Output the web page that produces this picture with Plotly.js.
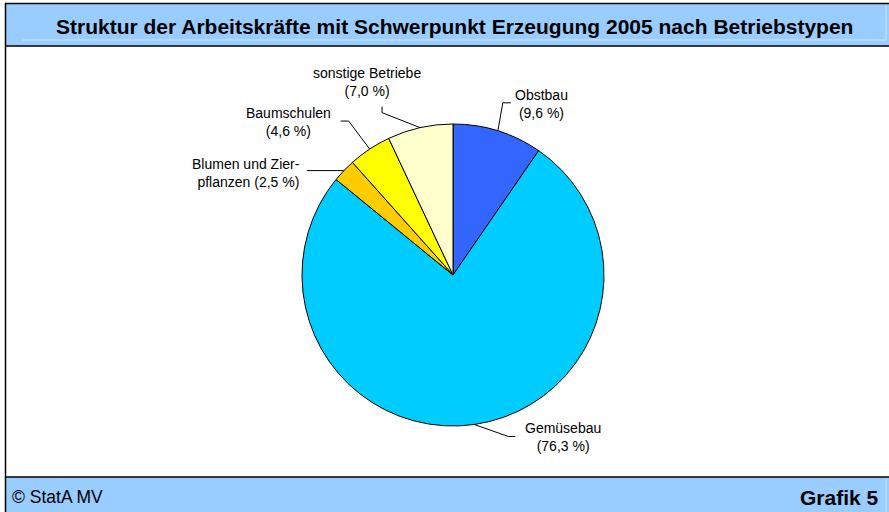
<!DOCTYPE html>
<html><head><meta charset="utf-8">
<script src="https://cdn.plot.ly/plotly-3.0.1.min.js"></script>
<style>html,body{margin:0;padding:0;background:#fff}#chart{width:889px;height:512px}</style>
</head><body><div id="chart"></div>
<script>
// ---- data ----
const categories = ["Obstbau", "Gemüsebau", "Blumen und Zier-<br>pflanzen", "Baumschulen", "sonstige Betriebe"];
const values = [9.6, 76.3, 2.5, 4.6, 7.0];
const valueLabels = ["9,6", "76,3", "2,5", "4,6", "7,0"];
const colors = ["#3366FF", "#00CCFF", "#FFCC00", "#FFFF00", "#FFFFCC"];
const titleText = "Struktur der Arbeitskräfte mit Schwerpunkt Erzeugung 2005 nach Betriebstypen";
const sourceText = "© StatA MV";
const chartNo = "Grafik 5";

// ---- layout styles ----
const W = 889, H = 512;
const cx = 453, cy = 275, R = 151;
const px = x => x / W, py = y => 1 - y / H;
const FONT = "Arial, Liberation Sans, sans-serif";
// leader elbows (relative pixel offsets from slice edge point) and label offsets
const elbows = [
  [[5, -28], [13, -28]],
  [[34, 12], [41, 12]],
  [[-37, 0]],
  [[-21, -28], [-29, -28]],
  [[-38, -15], [-38, -21]]
];
const labelOff = [[44, -27, "center"], [89, 13, "center"], [-42, 2, "right"], [-81, -27, "center"], [-53, -46, "center"]];

const total = values.reduce((a, b) => a + b, 0);
const shapes = [
  {type: "rect", xref: "paper", yref: "paper", x0: px(5), x1: 1, y0: py(46), y1: py(3), fillcolor: "#99CCFF", line: {width: 0}, layer: "below"},
  {type: "rect", xref: "paper", yref: "paper", x0: px(5), x1: 1, y0: 0, y1: py(477), fillcolor: "#99CCFF", line: {width: 0}, layer: "below"},
  {type: "line", xref: "paper", yref: "paper", x0: px(22), x1: px(886), y0: py(40), y1: py(40), line: {color: "#CCE6FF", width: 1}, layer: "below"},
  {type: "line", xref: "paper", yref: "paper", x0: px(886), x1: px(886), y0: py(5), y1: py(40), line: {color: "#CCE6FF", width: 1}, layer: "below"},
  {type: "line", xref: "paper", yref: "paper", x0: px(886), x1: px(886), y0: py(479), y1: 0, line: {color: "#CCE6FF", width: 1}, layer: "below"},
  {type: "line", xref: "paper", yref: "paper", x0: px(5), x1: 1, y0: py(46), y1: py(46), line: {color: "#000", width: 1.5}},
  {type: "line", xref: "paper", yref: "paper", x0: px(5), x1: 1, y0: py(477), y1: py(477), line: {color: "#000", width: 1.5}},
  {type: "line", xref: "paper", yref: "paper", x0: px(5), x1: 1, y0: py(3.5), y1: py(3.5), line: {color: "#000", width: 1.5}},
  {type: "line", xref: "paper", yref: "paper", x0: px(5.5), x1: px(5.5), y0: 0, y1: py(3), line: {color: "#000", width: 1.5}}
];
const annotations = [
  {text: "<b>" + titleText + "</b>", xref: "paper", yref: "paper", x: px(454), y: py(26), xanchor: "center", yanchor: "middle", showarrow: false, font: {family: FONT, size: 21, color: "#000"}},
  {text: sourceText, xref: "paper", yref: "paper", x: px(10), y: py(497), xanchor: "left", yanchor: "middle", showarrow: false, font: {family: FONT, size: 17.5, color: "#000"}},
  {text: "<b>" + chartNo + "</b>", xref: "paper", yref: "paper", x: px(881), y: py(497), xanchor: "right", yanchor: "middle", showarrow: false, font: {family: FONT, size: 21, color: "#000"}}
];
let cum = 0;
values.forEach((v, i) => {
  const mid = (cum + v / 2) / total * 2 * Math.PI;
  cum += v;
  const P = [cx + R * Math.sin(mid), cy - R * Math.cos(mid)];
  let path = `M ${px(P[0])} ${py(P[1])}`;
  elbows[i].forEach(o => { path += ` L ${px(P[0] + o[0])} ${py(P[1] + o[1])}`; });
  shapes.push({type: "path", xref: "paper", yref: "paper", path: path, line: {color: "#000", width: 1}});
  const lo = labelOff[i];
  annotations.push({
    text: categories[i] + (i === 2 ? " (" : "<br>(") + valueLabels[i] + " %)",
    xref: "paper", yref: "paper", x: px(P[0] + lo[0]), y: py(P[1] + lo[1]),
    xanchor: lo[2], yanchor: "middle", align: lo[2], showarrow: false,
    font: {family: FONT, size: 14, color: "#000"}
  });
});

const trace = {
  type: "pie", values: values, labels: categories, sort: false, direction: "clockwise", rotation: 0,
  marker: {colors: colors, line: {color: "#000", width: 1}},
  textinfo: "none", hoverinfo: "none", showlegend: false,
  domain: {x: [px(cx - R), px(cx + R)], y: [py(cy + R), py(cy - R)]}
};
Plotly.newPlot("chart", [trace], {
  width: W, height: H, margin: {l: 0, r: 0, t: 0, b: 0},
  paper_bgcolor: "#fff", plot_bgcolor: "#fff",
  shapes: shapes, annotations: annotations, showlegend: false
}, {staticPlot: true});
</script></body></html>
